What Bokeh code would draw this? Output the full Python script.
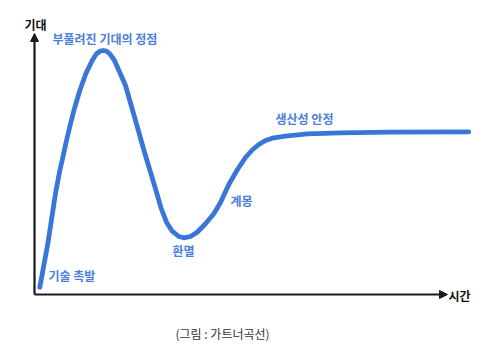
from bokeh.plotting import figure
from bokeh.models import Arrow, NormalHead, Range1d
from bokeh.core.properties import value
from bokeh.embed import file_html
from bokeh.resources import INLINE

# Hype cycle curve (time, expectation)
time = [5.3, 13.3, 21, 25.3, 28.3, 32, 36, 40.3, 45.3, 51.3, 57.7, 62, 65.5, 68.7, 72,
        75.3, 80, 85.3, 91, 97, 103, 109.5, 115.5, 121.5, 126.7, 132, 137.7, 144.3, 149.3,
        156, 162.7, 171, 179.3, 186, 194.3, 203, 211, 217.7, 224.3, 231, 237.7, 251,
        272.7, 306, 356, 434.3]
expectation = [7.3, 50.7, 101, 124, 137, 154, 170.7, 187.3, 204, 220.7, 234, 240.7, 243.3,
               244, 243.3, 240.7, 234, 222, 209, 188, 167, 144, 124, 104, 86, 72.3, 63.3,
               58, 56.7, 58, 62.3, 70.7, 80.7, 92, 110, 125, 137, 144.5, 150, 154, 156.3,
               158.3, 160.7, 161.7, 162.3, 162.7]

phase_labels = ["부풀려진 기대의 정점", "생산성 안정", "계몽", "환멸", "기술 촉발"]
phase_x = [18, 241, 196, 138, 14]
phase_y = [256, 176, 94, 44, 19]

FONT = "Noto Sans CJK KR"

p = figure(width=500, height=351, output_backend="svg", toolbar_location=None,
           x_range=Range1d(-34, 466), y_range=Range1d(-57, 294),
           min_border=0, min_border_left=0, min_border_right=0,
           min_border_top=0, min_border_bottom=0)
p.axis.visible = False
p.grid.visible = False
p.outline_line_color = None
p.background_fill_color = "white"
p.border_fill_color = "white"

# axes with arrows
p.add_layout(Arrow(x_start=0, y_start=0, x_end=0, y_end=261, line_width=2.2,
                   line_color="#1a1a1a",
                   end=NormalHead(size=8, fill_color="#1a1a1a", line_color="#1a1a1a")))
p.add_layout(Arrow(x_start=0, y_start=0, x_end=413, y_end=0, line_width=2.2,
                   line_color="#1a1a1a",
                   end=NormalHead(size=8, fill_color="#1a1a1a", line_color="#1a1a1a")))

p.line(time, expectation, line_width=4.8, line_color="#3a76d6",
       line_join="round", line_cap="round")

p.text(x=phase_x, y=phase_y, text=phase_labels, text_font=value(FONT),
       text_font_style="bold", text_font_size="12px", text_color="#4a80d8",
       text_align="left", text_baseline="middle")

p.text(x=[-10], y=[270], text=["기대"], text_font=value(FONT), text_font_style="bold",
       text_font_size="12px", text_color="#111111", text_align="left",
       text_baseline="middle")
p.text(x=[414], y=[-1], text=["시간"], text_font=value(FONT), text_font_style="bold",
       text_font_size="12px", text_color="#111111", text_align="left",
       text_baseline="middle")
p.text(x=[141], y=[-39], text=["(그림 : 가트너곡선)"], text_font=value(FONT),
       text_font_size="12px", text_color="#333333", text_align="left",
       text_baseline="middle")

open("out.html", "w").write(file_html(p, INLINE))
